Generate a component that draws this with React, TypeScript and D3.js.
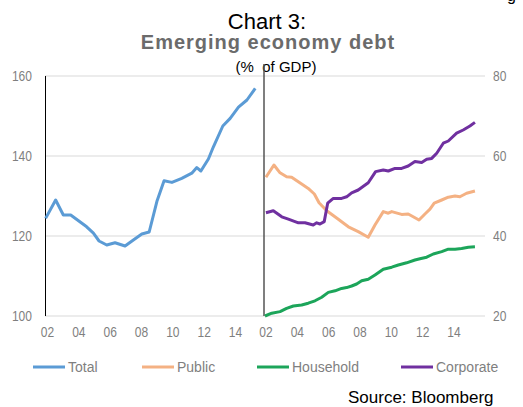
import React from "react";
import * as d3 from "d3";

const TOTAL_YEARS = [2002.04, 2002.68, 2003.17, 2003.64, 2004.66, 2005.09, 2005.45, 2005.94, 2006.47, 2007.11, 2007.64, 2008.18, 2008.65, 2009.14, 2009.6, 2010.1, 2010.73, 2011.37, 2011.69, 2011.95, 2012.43, 2012.75, 2013.35, 2013.82, 2014.35, 2014.89, 2015.42];
const TOTAL_VALUES = [124.4, 129, 125.25, 125.25, 122.3, 120.7, 118.75, 117.75, 118.3, 117.5, 119, 120.5, 121, 128.6, 133.8, 133.4, 134.4, 135.7, 137.1, 136.25, 139.25, 142.3, 147.5, 149.4, 152.2, 154, 156.9];

const PUBLIC_YEARS = [2002.06, 2002.57, 2002.96, 2003.38, 2003.7, 2004.34, 2004.76, 2005.15, 2005.45, 2005.94, 2006.68, 2007.32, 2007.95, 2008.59, 2009.02, 2009.55, 2009.87, 2010.09, 2010.72, 2011.14, 2011.46, 2011.83, 2012.21, 2012.53, 2012.8, 2013.28, 2013.7, 2014.13, 2014.44, 2014.87, 2015.4];
const PUBLIC_VALUES = [54.7, 57.75, 55.8, 54.8, 54.7, 53, 51.9, 50.5, 48.3, 46.3, 44.2, 42.3, 41.1, 39.7, 42.75, 46.1, 45.7, 46.1, 45.4, 45.5, 44.8, 44, 45.5, 46.7, 48.2, 49, 49.7, 50, 49.8, 50.7, 51.25];

const HOUSEHOLD_YEARS = [2002.0, 2002.43, 2002.96, 2003.38, 2003.81, 2004.34, 2004.76, 2005.19, 2005.62, 2006.04, 2006.47, 2006.89, 2007.21, 2007.53, 2007.85, 2008.17, 2008.59, 2009.02, 2009.55, 2010.09, 2010.51, 2011.04, 2011.57, 2011.89, 2012.32, 2012.74, 2013.28, 2013.7, 2014.13, 2014.55, 2014.98, 2015.4];
const HOUSEHOLD_VALUES = [20, 20.7, 21.1, 21.9, 22.5, 22.75, 23.2, 23.8, 24.7, 25.9, 26.3, 26.9, 27.1, 27.5, 28, 28.8, 29.2, 30.25, 31.7, 32.2, 32.75, 33.3, 34, 34.3, 34.7, 35.5, 36.1, 36.7, 36.7, 36.9, 37.2, 37.3];

const CORPORATE_YEARS = [2002.06, 2002.53, 2003.07, 2003.49, 2004.13, 2004.55, 2005.08, 2005.3, 2005.51, 2005.78, 2006.0, 2006.36, 2006.89, 2007.21, 2007.53, 2007.95, 2008.59, 2009.06, 2009.55, 2009.87, 2010.3, 2010.72, 2011.14, 2011.57, 2012.0, 2012.32, 2012.64, 2012.96, 2013.38, 2013.7, 2014.23, 2014.65, 2015.08, 2015.4];
const CORPORATE_VALUES = [45.8, 46.3, 44.8, 44.2, 43.3, 43.3, 42.75, 43.3, 43, 43.6, 48.2, 49.4, 49.4, 49.8, 50.8, 51.5, 53.3, 56.1, 56.5, 56.25, 56.9, 56.9, 57.5, 58.6, 58.4, 59.2, 59.4, 60.7, 63.2, 63.75, 65.7, 66.5, 67.5, 68.4];

const X_TICK_YEARS = [2002, 2004, 2006, 2008, 2010, 2012, 2014];
const LEFT_TICKS = [100, 120, 140, 160];
const RIGHT_TICKS = [20, 40, 60, 80];

const SERIES_NAMES = ["Total", "Public", "Household", "Corporate"];
const COLORS = ["#5b9bd5", "#f4b183", "#1ca55a", "#7030a0"];

const TITLE_1 = "Chart 3:";
const TITLE_2 = "Emerging economy debt";
const SUBTITLE = "(%  of GDP)";
const SOURCE = "Source: Bloomberg";

const FONT = "'Liberation Sans', Arial, sans-serif";

function NarrowText(props: { x: number; y: number; anchor: "start" | "middle" | "end"; children: React.ReactNode }) {
  return (
    <text
      transform={`translate(${props.x},${props.y}) scale(0.86,1)`}
      textAnchor={props.anchor}
      fontFamily={FONT}
      fontSize={14}
      fill="#7f7f7f"
    >
      {props.children}
    </text>
  );
}

export default function App() {
  const W = 523, H = 407;
  const top = 76, bottom = 316;
  const yLeft = d3.scaleLinear().domain([100, 160]).range([bottom, top]);
  const yRight = d3.scaleLinear().domain([20, 80]).range([bottom, top]);
  const xLeft = d3.scaleLinear().domain([2002, 2014]).range([45, 233]);
  const xRight = d3.scaleLinear().domain([2002, 2014]).range([265, 453]);

  const mk = (xs: number[], ys: number[], xs_: d3.ScaleLinear<number, number>, ysc: d3.ScaleLinear<number, number>) => {
    const pts = xs.map((x, i) => [x, ys[i]] as [number, number]);
    return d3.line<[number, number]>().x(d => xs_(d[0])).y(d => ysc(d[1])).curve(d3.curveLinear)(pts) || "";
  };

  const totalPath = mk(TOTAL_YEARS, TOTAL_VALUES, xLeft, yLeft);
  const publicPath = mk(PUBLIC_YEARS, PUBLIC_VALUES, xRight, yRight);
  const householdPath = mk(HOUSEHOLD_YEARS, HOUSEHOLD_VALUES, xRight, yRight);
  const corporatePath = mk(CORPORATE_YEARS, CORPORATE_VALUES, xRight, yRight);

  const legendX = [33, 142, 257, 401];

  return (
    <svg width={W} height={H} style={{ position: "absolute", left: 0, top: 0, background: "#fff" }}>
      <rect x={0} y={0} width={W} height={H} fill="#fff" />
      <text x={507} y={1} fontFamily={FONT} fontSize={16} fill="#000">g</text>
      <text x={267} y={29} textAnchor="middle" fontFamily={FONT} fontSize={22} fill="#000">{TITLE_1}</text>
      <text x={268} y={49} textAnchor="middle" fontFamily={FONT} fontSize={20} fontWeight="bold" letterSpacing={1} fill="#6b6b6b">{TITLE_2}</text>
      <text x={276} y={72} textAnchor="middle" fontFamily={FONT} fontSize={15} fill="#000" style={{ whiteSpace: "pre" }}>{SUBTITLE}</text>

      {LEFT_TICKS.map(t => (
        <line key={"g" + t} x1={45} x2={485} y1={yLeft(t)} y2={yLeft(t)} stroke="#d9d9d9" strokeWidth={1} />
      ))}
      {LEFT_TICKS.map(t => (
        <NarrowText key={"l" + t} x={32} y={yLeft(t) + 5} anchor="end">{t}</NarrowText>
      ))}
      {RIGHT_TICKS.map(t => (
        <NarrowText key={"r" + t} x={493} y={yRight(t) + 5} anchor="start">{t}</NarrowText>
      ))}
      {X_TICK_YEARS.map(y => (
        <NarrowText key={"xl" + y} x={xLeft(y) + 2.5} y={337} anchor="middle">{String(y).slice(2)}</NarrowText>
      ))}
      {X_TICK_YEARS.map(y => (
        <NarrowText key={"xr" + y} x={xRight(y) + 1} y={337} anchor="middle">{String(y).slice(2)}</NarrowText>
      ))}

      <line x1={45.5} x2={45.5} y1={top} y2={bottom} stroke="#000" strokeWidth={1} />
      <line x1={264} x2={264} y1={64} y2={bottom} stroke="#555" strokeWidth={1.5} />

      <path d={totalPath} fill="none" stroke={COLORS[0]} strokeWidth={3} strokeLinejoin="round" />
      <path d={publicPath} fill="none" stroke={COLORS[1]} strokeWidth={3} strokeLinejoin="round" />
      <path d={householdPath} fill="none" stroke={COLORS[2]} strokeWidth={3} strokeLinejoin="round" />
      <path d={corporatePath} fill="none" stroke={COLORS[3]} strokeWidth={3} strokeLinejoin="round" />

      {SERIES_NAMES.map((n, i) => (
        <g key={n}>
          <line x1={legendX[i]} x2={legendX[i] + 32} y1={367} y2={367} stroke={COLORS[i]} strokeWidth={3} />
          <text x={legendX[i] + 35} y={372} fontFamily={FONT} fontSize={14} fill="#7f7f7f">{n}</text>
        </g>
      ))}

      <text x={348} y={403} fontFamily={FONT} fontSize={17} fill="#000">{SOURCE}</text>
    </svg>
  );
}
